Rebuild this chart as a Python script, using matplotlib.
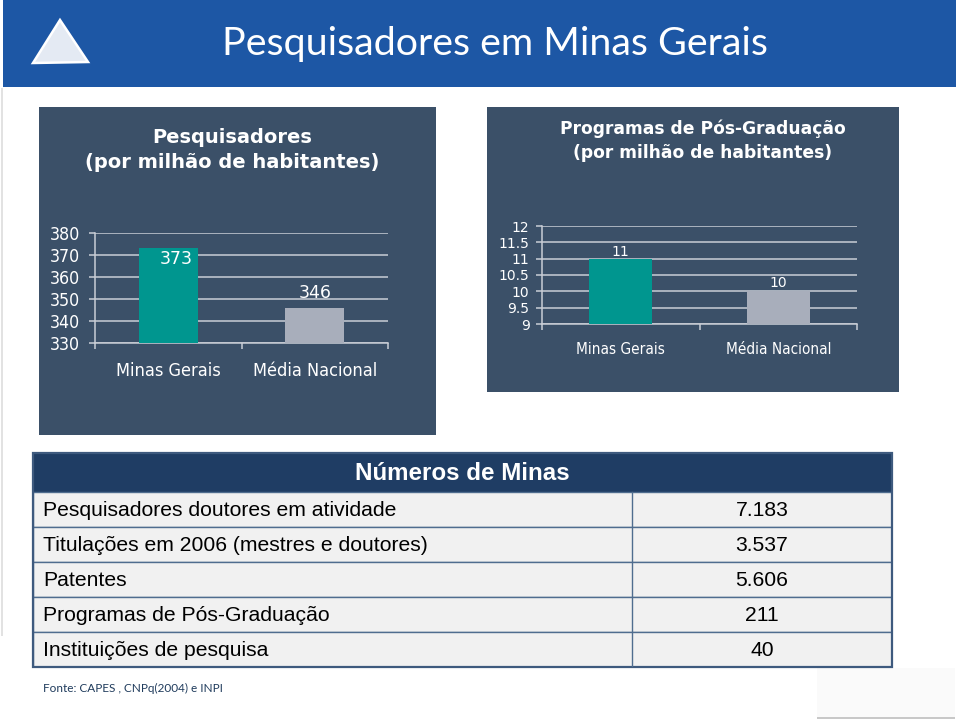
import matplotlib
matplotlib.use("Agg")
import matplotlib.pyplot as plt
from matplotlib.patches import Rectangle, Polygon

matplotlib.rcParams['font.family'] = ['DejaVu Sans']

# dados
titulo = "Pesquisadores em Minas Gerais"
categorias = ["Minas Gerais", "Média Nacional"]

pesq_titulo = "Pesquisadores\n(por milhão de habitantes)"
pesq_valores = [373, 346]
pesq_ticks = [330, 340, 350, 360, 370, 380]

prog_titulo = "Programas de Pós-Graduação\n(por milhão de habitantes)"
prog_valores = [11, 10]
prog_ticks = [9, 9.5, 10, 10.5, 11, 11.5, 12]

tabela_titulo = "Números de Minas"
tabela_itens = ["Pesquisadores doutores em atividade",
                "Titulações em 2006 (mestres e doutores)",
                "Patentes",
                "Programas de Pós-Graduação",
                "Instituições de pesquisa"]
tabela_valores = ["7.183", "3.537", "5.606", "211", "40"]

fonte = "Fonte: CAPES , CNPq(2004) e INPI"

# cores
AZUL = '#1D57A5'
PAINEL = '#3B5068'
CORES_BARRAS = ['#00968F', '#A8AEBB']
GRADE = '#C9CED6'
NAVY = '#1F3D64'
BORDA = '#4F6D8F'

W, H = 960, 720
fig = plt.figure(figsize=(9.6, 7.2), dpi=100)
fig.patch.set_facecolor('white')


def caixa(x0, y0, x1, y1):
    # pixels (origem no topo) -> fracao da figura
    return [x0 / W, 1 - y1 / H, (x1 - x0) / W, (y1 - y0) / H]


def retangulo(x0, y0, x1, y1, **kw):
    b = caixa(x0, y0, x1, y1)
    r = Rectangle((b[0], b[1]), b[2], b[3], transform=fig.transFigure, zorder=-1, **kw)
    fig.patches.append(r)


# cabecalho
retangulo(3, 0, 956, 87, facecolor=AZUL, edgecolor='none')
fig.text(495 / W, 1 - 44 / H, titulo, ha='center', va='center', color='white',
         fontsize=28.4, family='Lato')
tri = [(33, 63), (60, 20), (88, 62)]
fig.patches.append(Polygon([(x / W, 1 - y / H) for x, y in tri], closed=True,
                           transform=fig.transFigure, facecolor='#E4EAF3',
                           edgecolor='white', linewidth=1.8, zorder=2))

# bordas leves do slide
retangulo(1, 88, 2.5, 636, facecolor='#E2E2E2', edgecolor='none')
retangulo(817, 668, 955, 718, facecolor='#FAFAFA', edgecolor='none')
retangulo(817, 717, 955, 719, facecolor='#C8C8C8', edgecolor='none')

# paineis dos graficos
retangulo(39, 107, 436, 435, facecolor=PAINEL, edgecolor='none')
retangulo(487, 107, 899, 392, facecolor=PAINEL, edgecolor='none')


def barras(ax, valores, ticks, s_tick, s_cat, s_rot, rotulos, pad_y, pad_x):
    x = list(range(len(valores)))
    ax.bar(x, valores, width=0.4, color=CORES_BARRAS, zorder=3)
    ax.set_facecolor('none')
    ax.set_ylim(ticks[0], ticks[-1])
    ax.set_xlim(-0.5, len(valores) - 0.5)
    ax.set_yticks(ticks)
    ax.set_yticklabels(['%g' % t for t in ticks])
    ax.yaxis.grid(True, color=GRADE, linewidth=1.1, zorder=1)
    ax.set_axisbelow(True)
    ax.set_xticks([i - 0.5 for i in range(len(valores) + 1)])
    ax.set_xticklabels([])
    ax.set_xticks(x, minor=True)
    ax.set_xticklabels(categorias, minor=True, fontsize=s_cat, fontstretch='condensed')
    ax.tick_params(axis='x', which='minor', length=0, pad=pad_x, colors='white')
    ax.tick_params(axis='x', which='major', length=4, direction='out', color=GRADE, width=1.1)
    ax.tick_params(axis='y', length=4, direction='out', color=GRADE, width=1.1,
                   labelsize=s_tick, labelcolor='white', pad=pad_y)
    for s in ['top', 'right']:
        ax.spines[s].set_visible(False)
    for s in ['left', 'bottom']:
        ax.spines[s].set_color(GRADE)
        ax.spines[s].set_linewidth(1.1)
    for xi, v, (dx, dy, va) in zip(x, valores, rotulos):
        ax.annotate('%g' % v, (xi, v), xytext=(dx, dy), textcoords='offset points',
                    ha='center', va=va, color='white', fontsize=s_rot, zorder=4)


ax1 = fig.add_axes(caixa(95, 233, 388, 343))
barras(ax1, pesq_valores, pesq_ticks, 12.8, 13, 12.5,
       [(6, -1, 'top'), (0, 4, 'bottom')], 7, 14)
for t in ax1.get_yticklabels():
    t.set_fontstretch('condensed')
fig.text(232 / W, 1 - 150 / H, pesq_titulo, ha='center', va='center', color='white',
         fontsize=14, fontweight='bold', linespacing=1.4)

ax2 = fig.add_axes(caixa(542, 226, 857, 324))
barras(ax2, prog_valores, prog_ticks, 10, 11, 10,
       [(0, 0, 'bottom'), (0, 1, 'bottom')], 5, 13)
fig.text(703 / W, 1 - 140.5 / H, prog_titulo, ha='center', va='center', color='white',
         fontsize=12.3, fontweight='bold', linespacing=1.45)

# tabela
axt = fig.add_axes(caixa(33, 453, 892, 667))
axt.set_xlim(0, 859)
axt.set_ylim(214, 0)
axt.axis('off')
h_cab, h_lin, x_col = 39, 35, 599
axt.add_patch(Rectangle((0, 0), 859, h_cab, facecolor=NAVY, edgecolor='none'))
axt.text(429.5, h_cab / 2 + 1, tabela_titulo, ha='center', va='center', color='white',
         fontsize=17.4, fontweight='bold', family='Liberation Sans')
for i, (item, val) in enumerate(zip(tabela_itens, tabela_valores)):
    y0 = h_cab + i * h_lin
    axt.add_patch(Rectangle((0, y0), 859, h_lin, facecolor='#F1F1F1', edgecolor=BORDA,
                            linewidth=1))
    axt.text(10, y0 + h_lin / 2 + 1, item, ha='left', va='center', color='black',
             fontsize=15.2, family='Liberation Sans')
    axt.text((x_col + 859) / 2, y0 + h_lin / 2 + 1, val, ha='center', va='center',
             color='black', fontsize=15.2, family='Liberation Sans')
axt.plot([x_col, x_col], [h_cab, 214], color=BORDA, linewidth=1)
axt.add_patch(Rectangle((0, 0), 859, 214, facecolor='none', edgecolor='#3E5A7E',
                        linewidth=1.6, clip_on=False))

fig.text(43 / W, 1 - 688 / H, fonte, ha='left', va='center', color='#1F3B5C',
         fontsize=8.5, family='Lato')

plt.savefig('out.png', dpi=100)
